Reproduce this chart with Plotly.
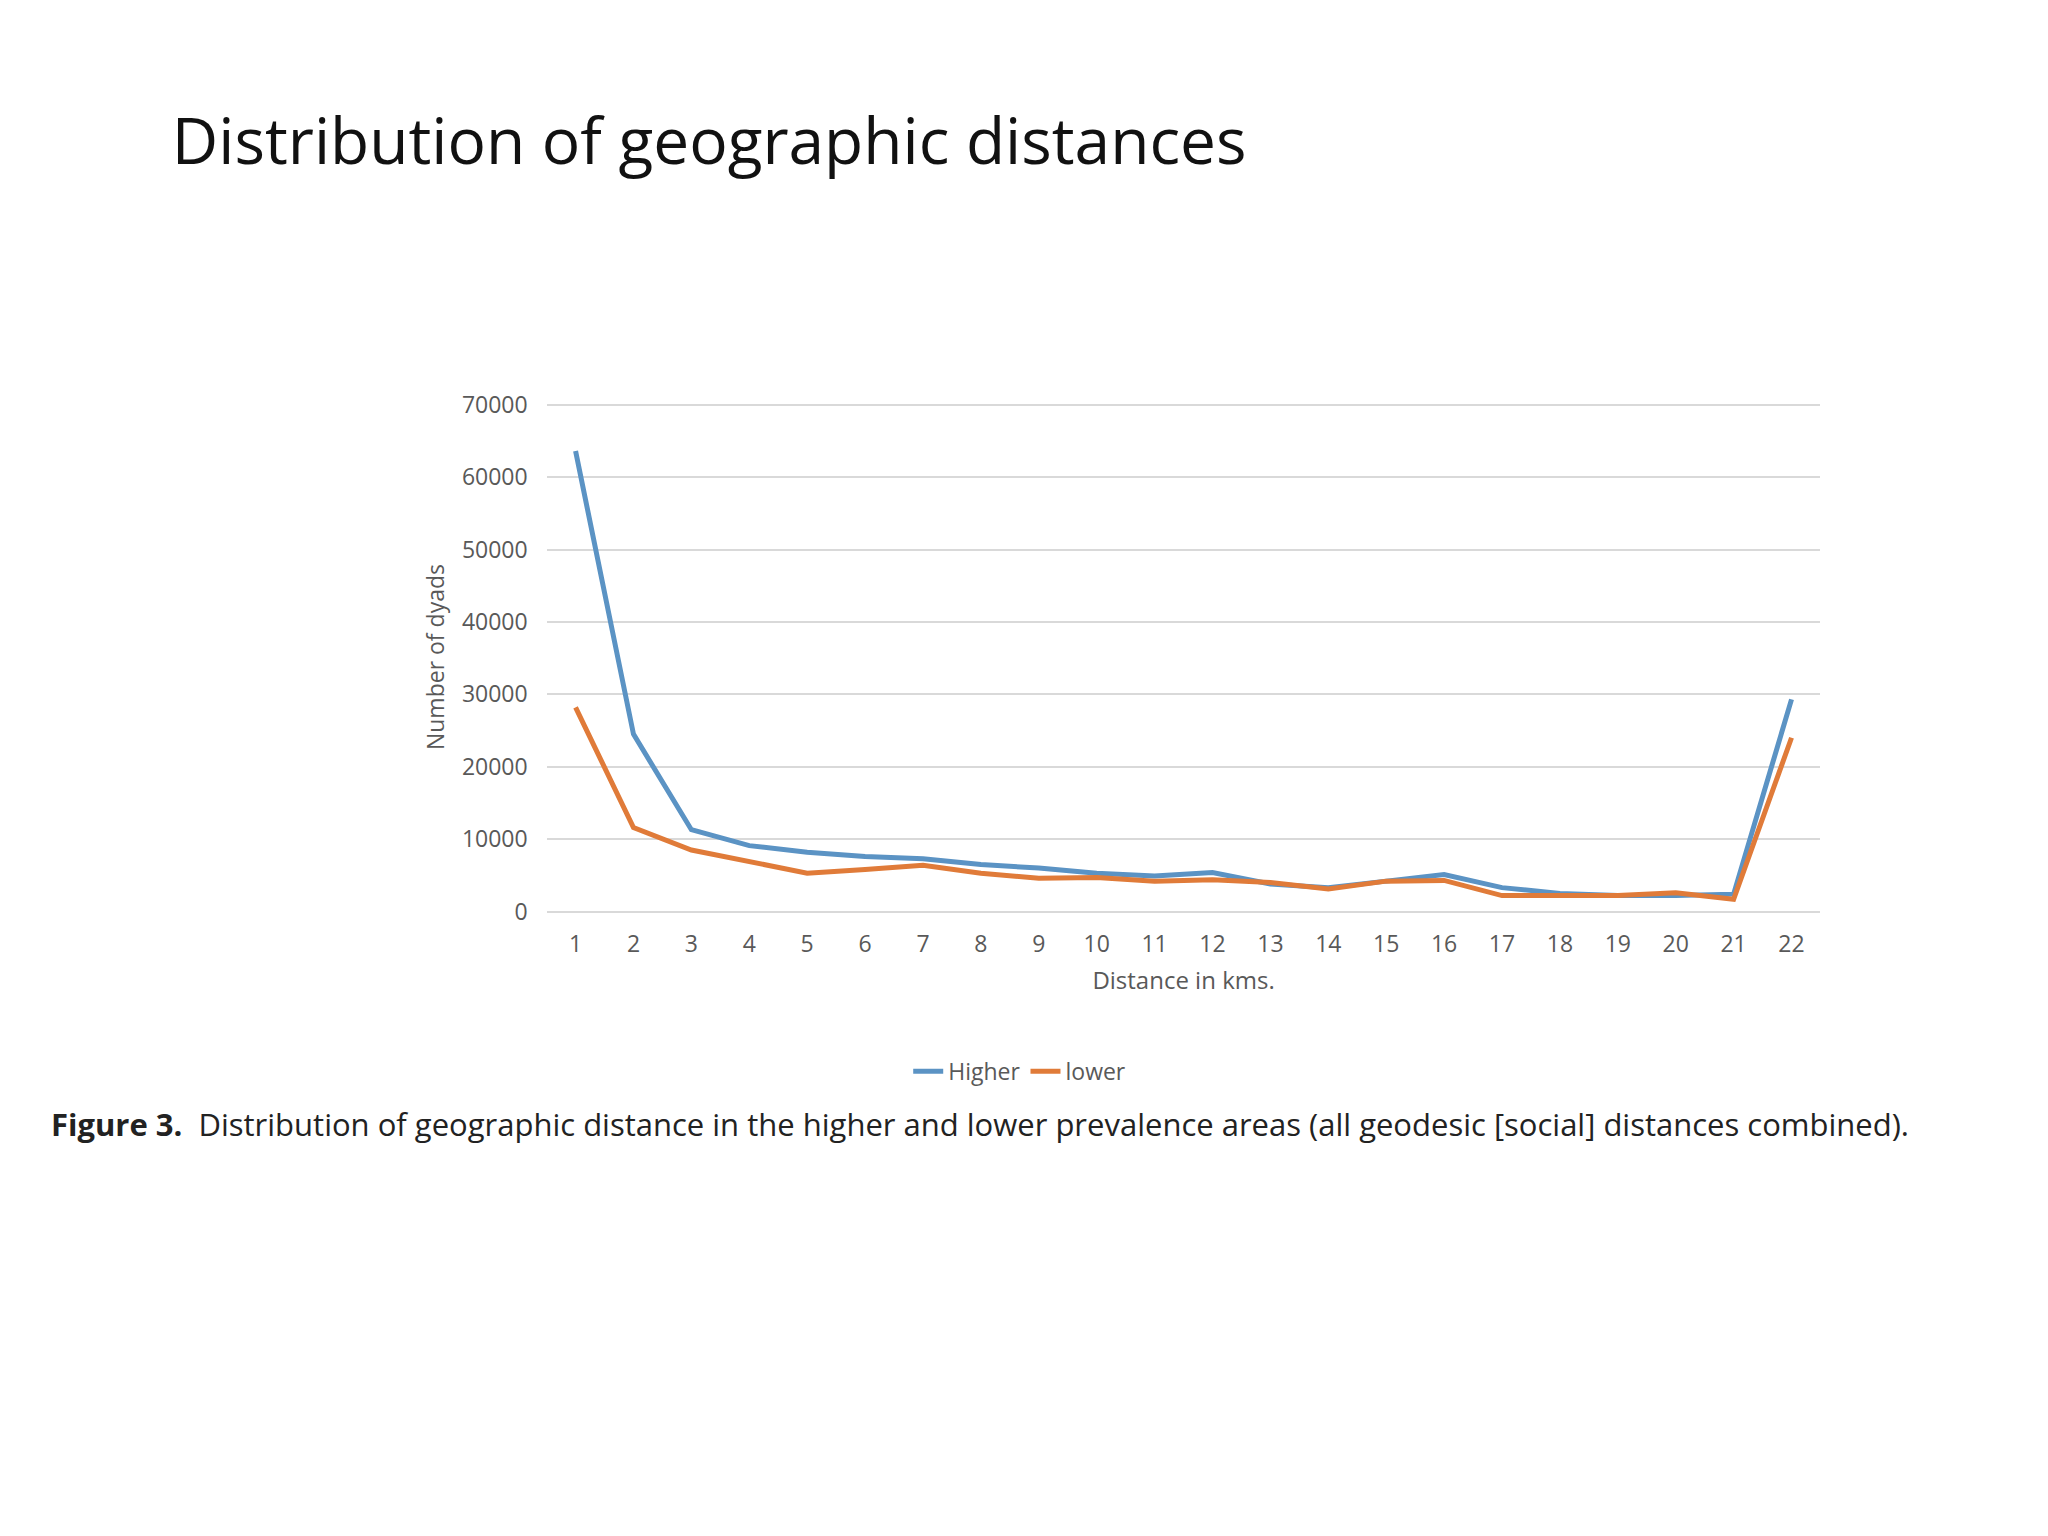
import plotly.graph_objects as go

distance = [str(i) for i in range(1, 23)]
higher = [63600, 24500, 11300, 9100, 8200, 7600, 7300, 6500, 6000, 5300, 4900, 5400,
          3800, 3300, 4200, 5100, 3300, 2500, 2200, 2200, 2400, 29300]
lower = [28200, 11600, 8500, 6900, 5300, 5800, 6400, 5300, 4600, 4700, 4200, 4400,
         4000, 3100, 4200, 4300, 2200, 2200, 2200, 2600, 1700, 24000]

fig = go.Figure()
fig.add_trace(go.Scatter(x=distance, y=higher, mode="lines", name="Higher",
                         line=dict(color="#5B93C4", width=5)))
fig.add_trace(go.Scatter(x=distance, y=lower, mode="lines", name="lower",
                         line=dict(color="#E07B39", width=5)))

fig.update_layout(
    width=2048, height=1536, paper_bgcolor="white", plot_bgcolor="white",
    font=dict(family="Open Sans", color="#595959"),
    margin=dict(l=0, r=0, t=0, b=0),
    title=dict(text="Distribution of geographic distances", x=0.08, xanchor="left",
               y=0.913, yanchor="middle", font=dict(size=64, color="#111", family="Open Sans")),
    xaxis=dict(domain=[0.263, 0.885], range=[-0.5, 21.5], tickfont=dict(size=23), showgrid=False,
               showline=False, ticks="outside", ticklen=12, tickcolor="white",
               title=dict(text="Distance in kms.", font=dict(size=24), standoff=14)),
    yaxis=dict(domain=[0.41, 0.748], range=[0, 70300], dtick=10000, tickfont=dict(size=23),
               tickformat="d", gridcolor="#d9d9d9", gridwidth=2, zeroline=True,
               zerolinecolor="#d9d9d9", zerolinewidth=2, ticksuffix="   ",
               title=dict(text="Number of dyads", font=dict(size=23), standoff=10)),
    legend=dict(orientation="h", x=0.494, xanchor="center", y=0.304, yanchor="middle",
                font=dict(size=23)),
    annotations=[dict(text="<b>Figure 3.</b>  Distribution of geographic distance in the higher and lower prevalence areas (all geodesic [social] distances combined).",
                      x=0.02, xanchor="left", y=0.269, yanchor="middle", xref="paper", yref="paper",
                      showarrow=False, font=dict(size=31, color="#222", family="Open Sans"))],
)
fig.write_html("out.html")
